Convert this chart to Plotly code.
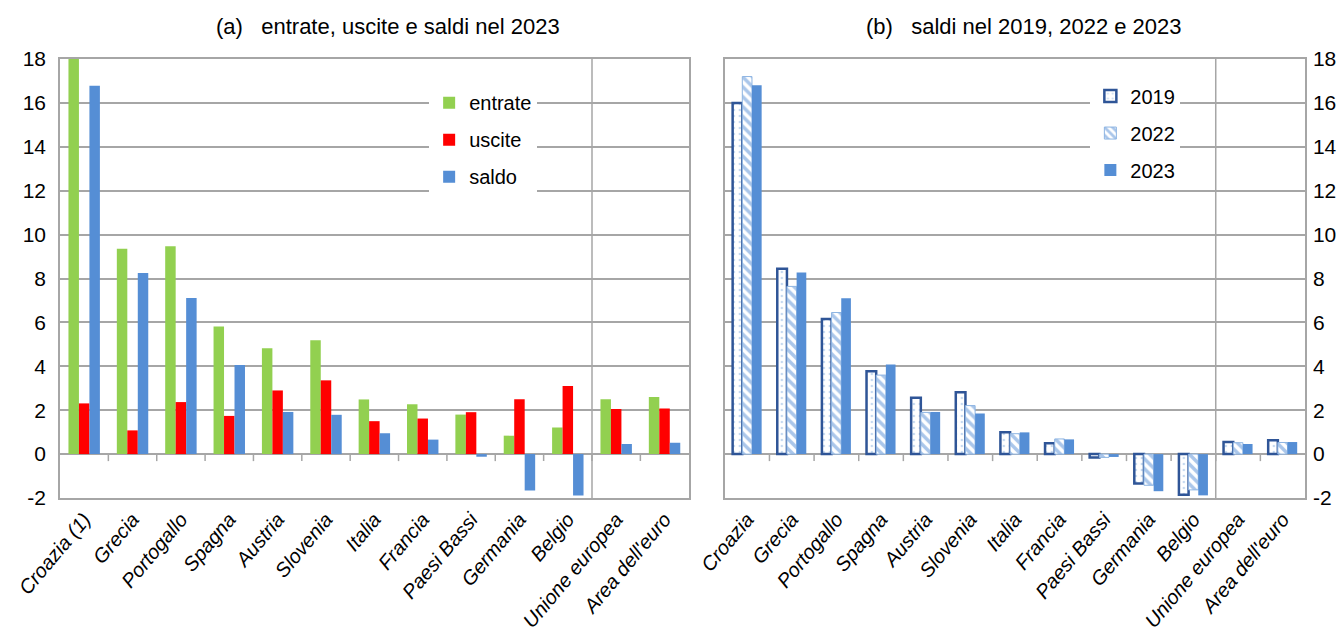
import plotly.graph_objects as go
from plotly.subplots import make_subplots

# ---------------- data ----------------
cat_a = ["Croazia (1)", "Grecia", "Portogallo", "Spagna", "Austria", "Slovenia", "Italia",
         "Francia", "Paesi Bassi", "Germania", "Belgio", "Unione europea", "Area dell'euro"]
cat_b = ["Croazia", "Grecia", "Portogallo", "Spagna", "Austria", "Slovenia", "Italia",
         "Francia", "Paesi Bassi", "Germania", "Belgio", "Unione europea", "Area dell'euro"]

entrate = [19.1, 9.35, 9.47, 5.81, 4.82, 5.19, 2.49, 2.27, 1.80, 0.84, 1.21, 2.50, 2.60]
uscite = [2.31, 1.08, 2.37, 1.74, 2.90, 3.36, 1.50, 1.62, 1.91, 2.50, 3.10, 2.05, 2.08]
saldo = [16.78, 8.25, 7.11, 4.06, 1.92, 1.79, 0.95, 0.66, -0.12, -1.66, -1.89, 0.46, 0.52]

saldo_2019 = [16.0, 8.44, 6.15, 3.77, 2.57, 2.82, 0.99, 0.49, -0.16, -1.34, -1.85, 0.55, 0.63]
saldo_2022 = [17.2, 7.64, 6.45, 3.60, 1.90, 2.21, 0.93, 0.69, -0.15, -1.42, -1.63, 0.52, 0.53]
saldo_2023 = [16.8, 8.27, 7.10, 4.08, 1.92, 1.85, 0.99, 0.67, -0.13, -1.69, -1.88, 0.46, 0.55]

y_ticks = [-2, 0, 2, 4, 6, 8, 10, 12, 14, 16, 18]

title_a = "(a)&nbsp;&nbsp;&nbsp;entrate, uscite e saldi nel 2023"
title_b = "(b)&nbsp;&nbsp;&nbsp;saldi nel 2019, 2022 e 2023"

# ---------------- styles ----------------
FONT = "Liberation Sans, Arial, sans-serif"
GREEN = "#92D050"
RED = "#FF0000"
BLUE = "#558ED5"
DARKBLUE = "#2F5597"
LIGHTBLUE = "#8DB4E2"
GRID = "#A6A6A6"

fig = make_subplots(rows=1, cols=2)

for name, vals, col in [("entrate", entrate, GREEN), ("uscite", uscite, RED), ("saldo", saldo, BLUE)]:
    fig.add_trace(go.Bar(x=cat_a, y=vals, name=name, marker=dict(color=col, line=dict(width=0)),
                         legend="legend", legendgroup=name), row=1, col=1)

fig.add_trace(go.Bar(x=cat_b, y=saldo_2019, name="2019", legend="legend2", legendgroup="2019",
                     marker=dict(color="white",
                                 pattern=dict(shape=".", fgcolor=LIGHTBLUE, bgcolor="white",
                                              size=6, solidity=0.15),
                                 line=dict(color=DARKBLUE, width=2.5))), row=1, col=2)
fig.add_trace(go.Bar(x=cat_b, y=saldo_2022, name="2022", legend="legend2", legendgroup="2022",
                     marker=dict(color="white",
                                 pattern=dict(shape="\\", fgcolor=BLUE, bgcolor="white",
                                              size=7, solidity=0.5),
                                 line=dict(color=LIGHTBLUE, width=1))), row=1, col=2)
fig.add_trace(go.Bar(x=cat_b, y=saldo_2023, name="2023", legend="legend2", legendgroup="2023",
                     marker=dict(color=BLUE, line=dict(width=0))), row=1, col=2)

yax = dict(range=[-2, 18], tickvals=y_ticks, ticktext=[str(v) for v in y_ticks],
           showgrid=True, gridcolor=GRID, gridwidth=1.5, zeroline=True, zerolinecolor=GRID,
           zerolinewidth=1.5, showline=True, linecolor=GRID, linewidth=1.5, mirror=True,
           ticks="", tickfont=dict(family=FONT, size=21, color="black"), ticklabelstandoff=8,
           automargin=False)
fig.update_yaxes(**yax)
fig.update_yaxes(side="left", row=1, col=1)
fig.update_yaxes(side="right", ticklabelstandoff=2, row=1, col=2)

xax = dict(showgrid=False, showline=True, linecolor=GRID, linewidth=1.5, mirror=True,
           ticks="", tickangle=-50, automargin=False,
           tickfont=dict(family=FONT, size=20, color="black", style="italic"))
fig.update_xaxes(**xax)
fig.update_xaxes(domain=[0.0, 0.505], row=1, col=1)
fig.update_xaxes(domain=[0.534, 1.0], row=1, col=2)

# separator between countries and aggregates, and category tick marks on the zero line
shapes = []
n = len(cat_a)
for xr, yr in [("x", "y"), ("x2", "y2")]:
    shapes.append(dict(type="line", xref=xr, yref=yr, x0=n - 2.5, x1=n - 2.5, y0=-2, y1=18,
                       line=dict(color=GRID, width=1.5)))
    for i in range(n - 1):
        shapes.append(dict(type="line", xref=xr, yref=yr, x0=i + 0.5, x1=i + 0.5, y0=0, y1=-0.32,
                           line=dict(color=GRID, width=1.5)))

fig.update_layout(
    width=1341, height=634,
    margin=dict(l=60, r=36, t=59, b=136),
    paper_bgcolor="white", plot_bgcolor="white",
    barmode="group", bargap=0.35, bargroupgap=0,
    font=dict(family=FONT, color="black"),
    shapes=shapes,
    legend=dict(x=0.2965, y=0.945, xanchor="left", yanchor="top", bgcolor="white",
                font=dict(family=FONT, size=20), traceorder="grouped", tracegroupgap=8,
                itemwidth=30),
    legend2=dict(x=0.8276, y=0.96, xanchor="left", yanchor="top", bgcolor="white",
                 font=dict(family=FONT, size=20), traceorder="grouped", tracegroupgap=8,
                 itemwidth=30),
    annotations=[
        dict(text=title_a, xref="paper", yref="paper", x=0.124, y=1.075, showarrow=False,
             xanchor="left", yanchor="middle", font=dict(family=FONT, size=22)),
        dict(text=title_b, xref="paper", yref="paper", x=0.6455, y=1.075, showarrow=False,
             xanchor="left", yanchor="middle", font=dict(family=FONT, size=22)),
    ],
)

fig.write_html("out.html", config={"displayModeBar": False},
               post_script="document.body.style.margin='0px';document.body.style.overflow='hidden';")
